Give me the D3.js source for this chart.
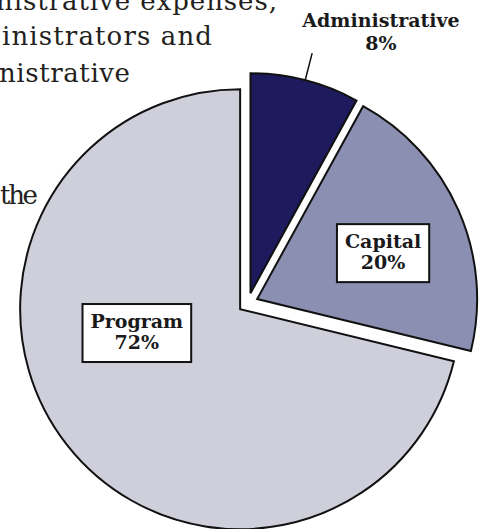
<!DOCTYPE html>
<html>
<head>
<meta charset="utf-8">
<script src="https://cdn.jsdelivr.net/npm/d3@7"></script>
<style>
  body { margin: 0; background: #fff; }
  svg { display: block; }
</style>
</head>
<body>
<svg id="chart" width="489" height="529"></svg>
<script>
// slice data, clockwise from 12 o'clock (shares)
const categories = ["Administrative", "Capital", "Program"];
const shares = [8, 20.8, 71.2];
const pctLabels = ["8%", "20%", "72%"];

// body text lines that run in from the left (cut off by the crop)
const bodyLines = ["nistrative expenses,", "inistrators and", "nistrative", "the"];

const colors = ["#1d1b5d", "#8b8fb1", "#cecfda"];

const svg = d3.select("#chart");

const radius = 220;
const center = [248, 303];
const explode = 10;

// body copy on the left, stretched to the extents seen in the crop
const bodyX0 = [-4, 2, -1, 0];
const bodyX1 = [277, 212, 130, 38];
const bodyY = [10, 45, 82, 204];
svg.append("g")
    .selectAll("text")
    .data(bodyLines)
    .enter()
    .append("text")
    .attr("x", (d, i) => bodyX0[i])
    .attr("y", (d, i) => bodyY[i])
    .attr("textLength", (d, i) => bodyX1[i] - bodyX0[i])
    .attr("lengthAdjust", "spacing")
    .attr("font-family", "DejaVu Serif")
    .attr("font-size", 26)
    .attr("fill", "#231f20")
    .text(d => d);

const data = categories.map((c, i) => ({ name: c, value: shares[i], pct: pctLabels[i], color: colors[i] }));

const pie = d3.pie().sort(null).value(d => d.value).startAngle(0);
const arcs = pie(data);

const arc = d3.arc().innerRadius(0).outerRadius(radius);

// each slice pulled out along its bisector
function sliceCenter(d) {
    const mid = (d.startAngle + d.endAngle) / 2;
    const p = d3.pointRadial(mid, explode);
    return [center[0] + p[0], center[1] + p[1]];
}

const slices = svg.append("g")
    .selectAll("g")
    .data(arcs)
    .enter()
    .append("g")
    .attr("transform", d => "translate(" + sliceCenter(d) + ")");

slices.append("path")
    .attr("d", arc)
    .attr("fill", d => d.data.color)
    .attr("stroke", "#111")
    .attr("stroke-width", 2)
    .attr("stroke-linejoin", "miter");

// boxed labels inside Capital and Program (angle in degrees, distance from slice tip)
const boxPos = { "Capital": [70, 134], "Program": [257, 106] };

const fontLab = "DejaVu Serif";
const labSize = 19;

slices.filter(d => boxPos[d.data.name])
    .each(function (d) {
        const g = d3.select(this);
        const p = d3.pointRadial(boxPos[d.data.name][0] * Math.PI / 180, boxPos[d.data.name][1]);
        const lab = g.append("g").attr("transform", "translate(" + p + ")");
        const rect = lab.append("rect");
        const t1 = lab.append("text")
            .attr("y", -5)
            .attr("text-anchor", "middle")
            .attr("font-family", fontLab)
            .attr("font-weight", "bold")
            .attr("font-size", labSize)
            .attr("fill", "#1a1a1a")
            .text(d.data.name);
        lab.append("text")
            .attr("y", 16)
            .attr("text-anchor", "middle")
            .attr("font-family", fontLab)
            .attr("font-weight", "bold")
            .attr("font-size", labSize)
            .attr("fill", "#1a1a1a")
            .text(d.data.pct);
        const w = t1.node().getComputedTextLength() + 16;
        rect.attr("x", -w / 2)
            .attr("y", -29)
            .attr("width", w)
            .attr("height", 58)
            .attr("fill", "#fff")
            .attr("stroke", "#111")
            .attr("stroke-width", 2);
    });

// Administrative gets a leader line and a label outside
const adm = arcs[0];
const admC = sliceCenter(adm);
const admMid = (adm.startAngle + adm.endAngle) / 2;
const p0 = d3.pointRadial(admMid, radius);
const p1 = d3.pointRadial(admMid, radius + 28);

svg.append("line")
    .attr("x1", admC[0] + p0[0])
    .attr("y1", admC[1] + p0[1])
    .attr("x2", admC[0] + p1[0])
    .attr("y2", admC[1] + p1[1])
    .attr("stroke", "#111")
    .attr("stroke-width", 1.5);

const admLab = svg.append("g").attr("transform", "translate(381,0)");
admLab.append("text")
    .attr("y", 27)
    .attr("text-anchor", "middle")
    .attr("font-family", fontLab)
    .attr("font-weight", "bold")
    .attr("font-size", labSize)
    .attr("fill", "#1a1a1a")
    .text(adm.data.name);
admLab.append("text")
    .attr("y", 50)
    .attr("text-anchor", "middle")
    .attr("font-family", fontLab)
    .attr("font-weight", "bold")
    .attr("font-size", labSize)
    .attr("fill", "#1a1a1a")
    .text(adm.data.pct);
</script>
</body>
</html>
